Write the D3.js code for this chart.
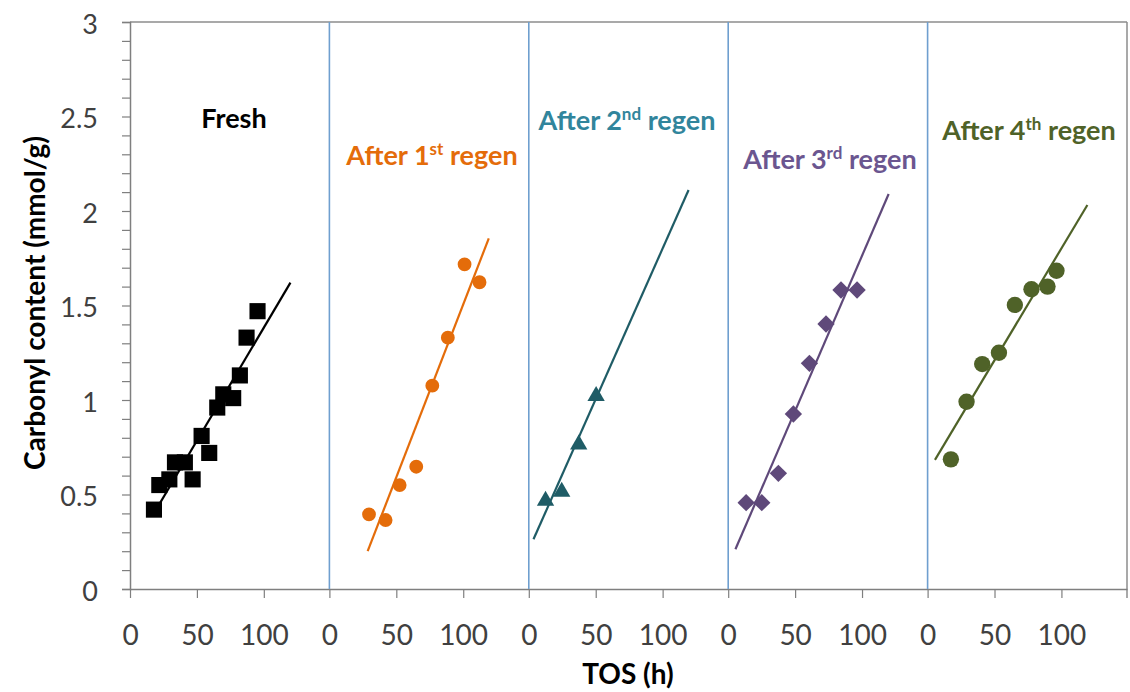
<!DOCTYPE html>
<html>
<head>
<meta charset="utf-8">
<script src="https://cdn.jsdelivr.net/npm/d3@7"></script>
<style>
  body { margin: 0; background: #fff; }
  svg text { font-family: Lato, "Open Sans", sans-serif; }
</style>
</head>
<body>
<div id="chart"></div>
<script>
// ============== Data ==============
const yTicks = [0, 0.5, 1, 1.5, 2, 2.5, 3];
const xTicks = [0, 50, 100];

const freshPts = [[17.9,0.42],[21.9,0.55],[29.4,0.58],[33.6,0.67],[41,0.67],[46.8,0.58],
  [53.5,0.81],[59.2,0.72],[65.2,0.96],[69.7,1.03],[77.1,1.01],[82.1,1.13],[87.1,1.33],[95.3,1.47]];
const regen1Pts = [[29.6,0.395],[42,0.365],[52.5,0.55],[64.9,0.647],[76.9,1.076],[88.5,1.33],
  [101,1.718],[112.2,1.623]];
const regen2Pts = [[12.5,0.467],[24.6,0.515],[37.3,0.765],[50.3,1.021]];
const regen3Pts = [[13.4,0.457],[25.1,0.457],[37.5,0.612],[48.7,0.926],[60.7,1.194],
  [73.1,1.402],[84.3,1.582],[96.3,1.582]];
const regen4Pts = [[17.4,0.686],[29.1,0.991],[40.8,1.19],[53.3,1.25],[65.2,1.503],
  [77.6,1.586],[89.6,1.6],[96.3,1.684]];

// trend line end points
const freshTrend = [[17,0.39],[119.9,1.621]];
const regen1Trend = [[28.6,0.2],[119.1,1.855]];
const regen2Trend = [[3.5,0.263],[119.4,2.111]];
const regen3Trend = [[5.4,0.21],[119.9,2.09]];
const regen4Trend = [[5.5,0.683],[119.4,2.032]];

const panelNames = ['Fresh', 'After 1', 'After 2', 'After 3', 'After 4'];
const panelSups = ['', 'st', 'nd', 'rd', 'th'];

const panels = [
  {pts: freshPts, trend: freshTrend, color: '#000000', label: '#000000', symbol: d3.symbolSquare, size: 260, rot: 0, ty: 128, tx: 234},
  {pts: regen1Pts, trend: regen1Trend, color: '#E46C0A', label: '#E46C0A', symbol: d3.symbolCircle, size: 150, rot: 0, ty: 165, tx: 432},
  {pts: regen2Pts, trend: regen2Trend, color: '#1F5C66', label: '#31859C', symbol: d3.symbolTriangle, size: 130, rot: 0, ty: 130, tx: 627},
  {pts: regen3Pts, trend: regen3Trend, color: '#5F497A', label: '#6B5690', symbol: d3.symbolSquare, size: 150, rot: 45, ty: 169, tx: 830},
  {pts: regen4Pts, trend: regen4Trend, color: '#4F6228', label: '#4F6228', symbol: d3.symbolCircle, size: 210, rot: 0, ty: 140, tx: 1029}
];

// ============== SVG ==============
const width = 1130, height = 692;
const plotLeft = 130, plotRight = 1127, plotTop = 22, plotBottom = 589;
const panelW = (plotRight - plotLeft) / panels.length;

const svg = d3.select('#chart')
  .append('svg')
  .attr('width', width)
  .attr('height', height);

const y = d3.scaleLinear().domain([0, 3]).range([plotBottom, plotTop]);

// ============== Frame ==============
svg.append('line')
  .attr('x1', plotLeft).attr('x2', plotRight).attr('y1', plotTop).attr('y2', plotTop)
  .attr('stroke', '#8c8c8c').attr('stroke-width', 1.5);

svg.append('line')
  .attr('x1', plotRight).attr('x2', plotRight).attr('y1', plotTop).attr('y2', plotBottom + 9)
  .attr('stroke', '#8c8c8c').attr('stroke-width', 1.5);

// ============== Y Axis ==============
const yAxis = d3.axisLeft(y)
  .tickValues(d3.range(0, 31).map(d => d / 10))
  .tickSize(8)
  .tickFormat(d => yTicks.some(t => Math.abs(t - d) < 1e-9) ? d3.format('~g')(d) : '');

const yG = svg.append('g')
  .attr('transform', `translate(${plotLeft},0)`)
  .call(yAxis);
yG.select('.domain').attr('stroke', '#7f7f7f').attr('stroke-width', 1.5);
yG.selectAll('.tick line').attr('stroke', '#7f7f7f').attr('stroke-width', 1.2);
yG.selectAll('.tick text')
  .attr('x', -32)
  .attr('dy', '0.42em')
  .attr('fill', '#404040')
  .style('font-size', '27px');

// ============== Panels ==============
panels.forEach((p, i) => {
  const x0 = plotLeft + i * panelW;
  const x = d3.scaleLinear().domain([0, 149]).range([x0, x0 + panelW]);

  // x axis for this panel
  const xG = svg.append('g')
    .attr('transform', `translate(0,${plotBottom})`)
    .call(d3.axisBottom(x).tickValues(xTicks).tickSize(9).tickSizeOuter(0));
  xG.select('.domain').attr('stroke', '#7f7f7f').attr('stroke-width', 1.5);
  xG.selectAll('.tick line').attr('stroke', '#7f7f7f').attr('stroke-width', 1.2);
  xG.selectAll('.tick text')
    .attr('y', 0)
    .attr('dy', 56)
    .attr('fill', '#404040')
    .style('font-size', '28px');

  // divider between panels
  if (i > 0) {
    svg.append('line')
      .attr('x1', x(0)).attr('x2', x(0))
      .attr('y1', plotTop).attr('y2', plotBottom)
      .attr('stroke', '#6f9fcf').attr('stroke-width', 1.6);
  }

  // trend line
  svg.append('line')
    .attr('x1', x(p.trend[0][0])).attr('y1', y(p.trend[0][1]))
    .attr('x2', x(p.trend[1][0])).attr('y2', y(p.trend[1][1]))
    .attr('stroke', p.color).attr('stroke-width', 2.2);

  // markers
  svg.append('g')
    .selectAll('path')
    .data(p.pts)
    .enter()
    .append('path')
    .attr('d', d3.symbol().type(p.symbol).size(p.size))
    .attr('transform', d => `translate(${x(d[0])},${y(d[1])}) rotate(${p.rot})`)
    .attr('fill', p.color);

  // panel label
  const t = svg.append('text')
    .attr('x', p.tx)
    .attr('y', p.ty)
    .attr('text-anchor', 'middle')
    .attr('fill', p.label)
    .style('font-size', '27px')
    .style('font-weight', 700);
  t.append('tspan').text(panelNames[i]);
  if (panelSups[i]) {
    t.append('tspan').text(panelSups[i])
      .attr('dy', -10)
      .style('font-size', '17px');
    t.append('tspan').text(' regen')
      .attr('dy', 10);
  }
});

// ============== Axis Titles ==============
svg.append('text')
  .text('Carbonyl content (mmol/g)')
  .attr('transform', 'translate(45,303) rotate(-90)')
  .attr('text-anchor', 'middle')
  .attr('fill', '#000')
  .style('font-size', '28px')
  .style('font-weight', 700);

svg.append('text')
  .text('TOS (h)')
  .attr('x', 628)
  .attr('y', 684)
  .attr('text-anchor', 'middle')
  .attr('fill', '#000')
  .style('font-size', '28px')
  .style('font-weight', 700);
</script>
</body>
</html>
